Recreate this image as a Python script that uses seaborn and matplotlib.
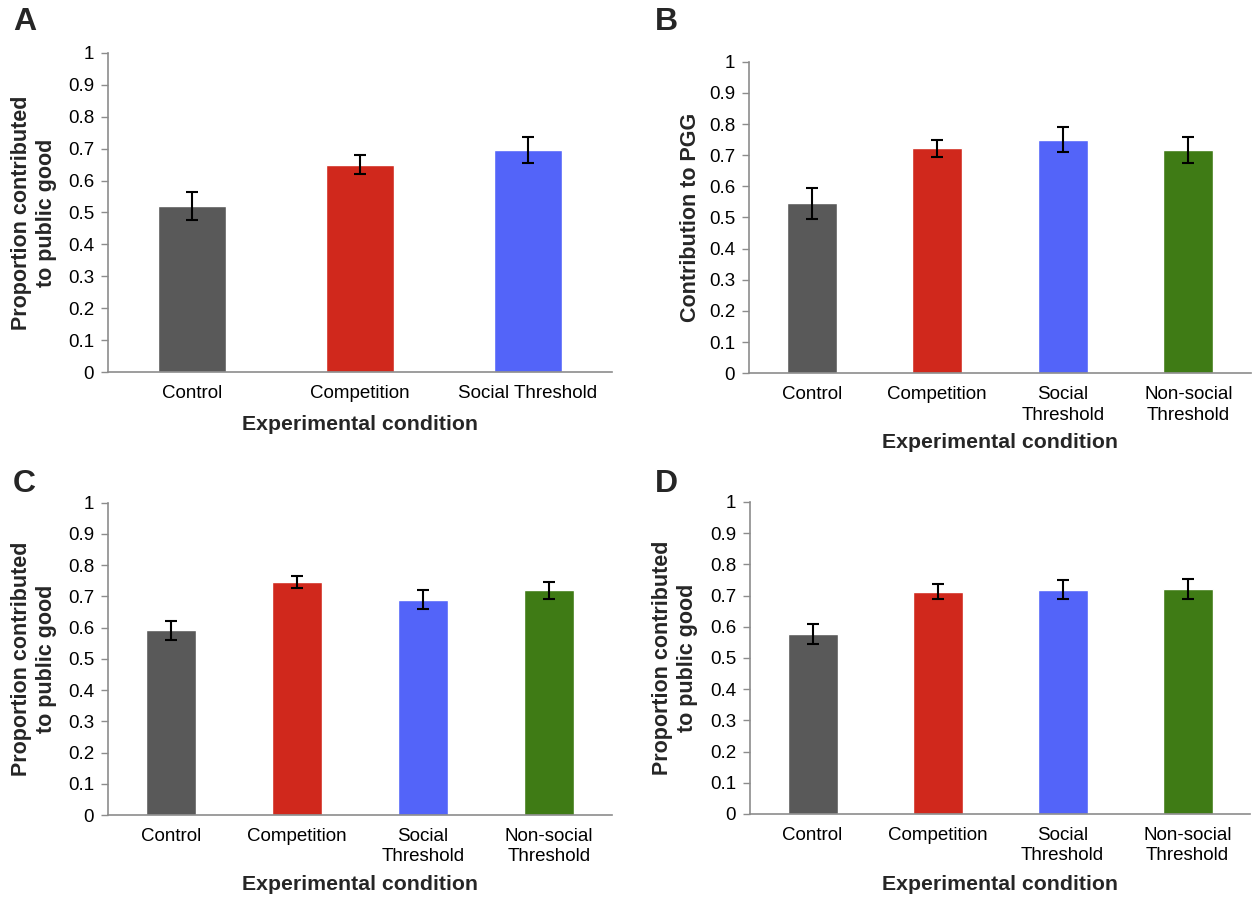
import numpy as np
import matplotlib
matplotlib.use("Agg")
import matplotlib.pyplot as plt
import seaborn as sns
from matplotlib.ticker import FixedLocator

# ---------------- data ----------------
cats_A = ["Control", "Competition", "Social Threshold"]
means_A = [0.520, 0.650, 0.696]
err_A = [0.045, 0.030, 0.041]

cats_4 = ["Control", "Competition", "Social\nThreshold", "Non-social\nThreshold"]
means_B = [0.546, 0.722, 0.750, 0.717]
err_B = [0.050, 0.027, 0.040, 0.042]

means_C = [0.591, 0.746, 0.690, 0.719]
err_C = [0.031, 0.020, 0.029, 0.028]

means_D = [0.577, 0.713, 0.719, 0.721]
err_D = [0.033, 0.023, 0.030, 0.032]

ytick_vals = [0, 0.1, 0.2, 0.3, 0.4, 0.5, 0.6, 0.7, 0.8, 0.9, 1]
ytick_labels = ["0", "0.1", "0.2", "0.3", "0.4", "0.5", "0.6", "0.7", "0.8", "0.9", "1"]

ylabel_prop = "Proportion contributed\nto public good"
ylabel_pgg = "Contribution to PGG"
xlabel = "Experimental condition"

colors = ["#595959", "#D0281C", "#5364F9", "#3F7B15"]

# ---------------- style ----------------
sns.set_style("white")
plt.rcParams["font.family"] = ["Liberation Sans", "DejaVu Sans"]

fig = plt.figure(figsize=(12.56, 8.98), dpi=100)

W, H = 1256, 898
def axes_px(left, right, top, bottom):
    return fig.add_axes([left / W, (H - bottom) / H, (right - left) / W, (bottom - top) / H])

panels = [
    dict(rect=(108, 612, 52.7, 372.3), cats=cats_A, means=means_A, err=err_A,
         ylabel=ylabel_prop, letter="A", letter_xy=(13, 22), ylab_x=34, xlab_y=425),
    dict(rect=(749, 1251, 61.7, 373.3), cats=cats_4, means=means_B, err=err_B,
         ylabel=ylabel_pgg, letter="B", letter_xy=(655, 22), ylab_x=691, xlab_y=443),
    dict(rect=(108, 612, 502.7, 815), cats=cats_4, means=means_C, err=err_C,
         ylabel=ylabel_prop, letter="C", letter_xy=(13, 484), ylab_x=34, xlab_y=885),
    dict(rect=(750, 1250, 502, 814), cats=cats_4, means=means_D, err=err_D,
         ylabel=ylabel_prop, letter="D", letter_xy=(655, 484), ylab_x=675, xlab_y=884),
]

spine_col = "#8c8c8c"

for p in panels:
    left, right, top, bottom = p["rect"]
    ax = axes_px(left, right, top, bottom)
    n = len(p["cats"])
    sns.barplot(x=p["cats"], y=p["means"], hue=p["cats"], palette=colors[:n],
                legend=False, width=0.4, saturation=1, errorbar=None, ax=ax)
    ax.errorbar(np.arange(n), p["means"], yerr=p["err"], fmt="none",
                ecolor="black", elinewidth=1.5, capsize=4.5, capthick=1.5, zorder=5)

    ax.set_ylim(0, 1)
    ax.set_xlim(-0.5, n - 0.5)
    ax.set_yticks(ytick_vals)
    ax.set_yticklabels(ytick_labels)
    ax.xaxis.set_minor_locator(FixedLocator(np.arange(-0.5, n, 1.0)))
    ax.tick_params(axis="x", which="major", length=0, pad=9.5, labelsize=13.5, colors="black")
    ax.tick_params(axis="x", which="minor", length=5, width=1, color=spine_col, direction="out")
    ax.tick_params(axis="y", which="major", length=5, width=1, color=spine_col,
                   direction="out", pad=5, labelsize=13.5, labelcolor="black", left=True)
    for lab in ax.get_xticklabels():
        lab.set_linespacing(1.25)
    for s in ["top", "right"]:
        ax.spines[s].set_visible(False)
    for s in ["left", "bottom"]:
        ax.spines[s].set_color(spine_col)
        ax.spines[s].set_linewidth(1.2)

    ax.set_xlabel("")
    ax.set_ylabel("")
    axh = bottom - top
    axw = right - left
    ax.set_xlabel(xlabel, fontsize=15.3, fontweight="bold")
    ax.xaxis.set_label_coords(0.5, -(p["xlab_y"] - bottom) / axh)
    ax.xaxis.label.set_va("center")
    ax.set_ylabel(p["ylabel"], fontsize=15.5, fontweight="bold", linespacing=1.3)
    ax.yaxis.set_label_coords((p["ylab_x"] - left) / axw, 0.5)
    ax.yaxis.label.set_va("center")

    lx, ly = p["letter_xy"]
    fig.text(lx / W, (H - ly) / H, p["letter"], fontsize=23, fontweight="bold",
             ha="left", va="center")

fig.savefig("out.png", dpi=100)
